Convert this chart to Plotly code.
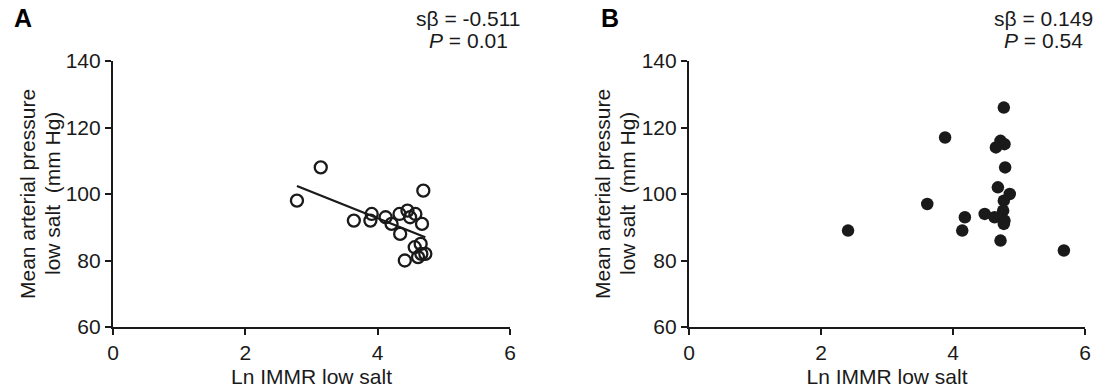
import plotly.graph_objects as go

# Panel A data (open circles)
a_x = [2.78, 3.14, 3.64, 3.91, 3.89, 4.12, 4.21, 4.33, 4.34, 4.45, 4.49, 4.57,
       4.67, 4.69, 4.41, 4.56, 4.65, 4.61, 4.72, 4.66]
a_y = [98, 108, 92, 94, 92, 93, 91, 94, 88, 95, 93, 94,
       91, 101, 80, 84, 85, 81, 82, 82]
a_fit_x = [2.78, 4.72]
a_fit_y = [102.4, 87.0]

# Panel B data (filled circles)
b_x = [2.41, 3.61, 3.88, 4.14, 4.18, 4.48, 4.63, 4.68, 4.72, 4.65, 4.72, 4.78,
       4.77, 4.79, 4.86, 4.77, 4.76, 4.78, 4.77, 5.68]
b_y = [89, 97, 117, 89, 93, 94, 93, 102, 86, 114, 116, 115,
       126, 108, 100, 98, 95, 92, 91, 83]

x_ticks = [0, 2, 4, 6]
y_ticks = [60, 80, 100, 120, 140]
x_title = "Ln IMMR low salt"
y_title_1 = "Mean arterial pressure"
y_title_2 = "low salt\u00a0\u00a0(mm Hg)"
stats_a = ["s\u03b2 = -0.511", "<i>P</i> = 0.01"]
stats_b = ["s\u03b2 = 0.149", "<i>P</i> = 0.54"]
panel_labels = ["A", "B"]

FONT = "Liberation Sans, Arial, sans-serif"
INK = "#1a1a1a"
FS = 21

fig = go.Figure()
fig.add_trace(go.Scatter(x=a_x, y=a_y, mode="markers", xaxis="x", yaxis="y",
                         marker=dict(symbol="circle-open", size=12, color=INK,
                                     line=dict(width=2.3, color=INK)),
                         showlegend=False))
fig.add_trace(go.Scatter(x=a_fit_x, y=a_fit_y, mode="lines", xaxis="x", yaxis="y",
                         line=dict(color=INK, width=2.3), showlegend=False))
fig.add_trace(go.Scatter(x=b_x, y=b_y, mode="markers", xaxis="x2", yaxis="y2",
                         marker=dict(symbol="circle", size=12.5, color=INK,
                                     line=dict(width=0)),
                         showlegend=False))

H = 388.0
W = 1094.0
ydom = [1 - 327 / H, 1 - 61 / H]
axis_common = dict(range=[0, 6], tickvals=x_ticks, ticks="outside", ticklen=6,
                   tickwidth=2.2, tickcolor=INK, showline=True, linewidth=2.2,
                   linecolor=INK, showgrid=False, zeroline=False, automargin=False,
                   tickfont=dict(family=FONT, size=FS, color=INK),
                   title=dict(text=x_title, font=dict(family=FONT, size=FS, color=INK),
                              standoff=8))
yaxis_common = dict(range=[60, 140], tickvals=y_ticks, ticks="outside", ticklen=6,
                    tickwidth=2.2, tickcolor=INK, showline=True, linewidth=2.2,
                    linecolor=INK, showgrid=False, zeroline=False, automargin=False,
                    tickfont=dict(family=FONT, size=FS, color=INK),
                    domain=ydom)

fig.update_layout(
    width=1094, height=388,
    margin=dict(l=0, r=0, t=0, b=0, pad=0, autoexpand=False),
    paper_bgcolor="white", plot_bgcolor="white",
    xaxis=dict(domain=[113 / W, 510 / W], anchor="y", **axis_common),
    yaxis=dict(anchor="x", **yaxis_common),
    xaxis2=dict(domain=[689 / W, 1085 / W], anchor="y2", **axis_common),
    yaxis2=dict(anchor="x2", **yaxis_common),
)

ann = []
for lab, px in zip(panel_labels, [23, 610]):
    ann.append(dict(text="<b>%s</b>" % lab, x=px / W, y=1 - 18 / H, xref="paper", yref="paper",
                    showarrow=False, font=dict(family=FONT, size=25, color="black"),
                    xanchor="center", yanchor="middle"))
for cx in [27, 602]:
    ann.append(dict(text=y_title_1, x=cx / W, y=1 - 194 / H, xref="paper", yref="paper",
                    textangle=-90, showarrow=False,
                    font=dict(family=FONT, size=FS, color=INK),
                    xanchor="center", yanchor="middle"))
    ann.append(dict(text=y_title_2, x=(cx + 25) / W, y=1 - 194 / H, xref="paper", yref="paper",
                    textangle=-90, showarrow=False,
                    font=dict(family=FONT, size=FS, color=INK),
                    xanchor="center", yanchor="middle"))
for stats, cx in [(stats_a, 468), (stats_b, 1043)]:
    for i, (s, yy) in enumerate(zip(stats, [18, 41])):
        ann.append(dict(text=s, x=cx / W, y=1 - yy / H, xref="paper", yref="paper",
                        showarrow=False, font=dict(family=FONT, size=FS, color=INK),
                        xanchor="center", yanchor="middle"))
fig.update_layout(annotations=ann)

fig.write_html("out.html", config={"displayModeBar": False},
               post_script="document.body.style.margin='0';document.body.style.overflow='hidden';")
